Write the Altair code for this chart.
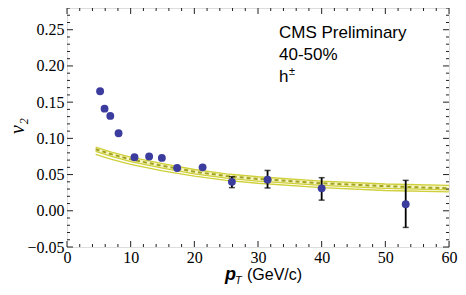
import altair as alt
import pandas as pd

# measured points
pt = [5.2, 5.9, 6.8, 8.1, 10.6, 12.9, 14.9, 17.3, 21.3, 25.9, 31.5, 40.0, 53.2]
v2 = [0.165, 0.141, 0.131, 0.107, 0.074, 0.075, 0.073, 0.059, 0.060, 0.040, 0.043, 0.031, 0.009]
# error bars (only last four points)
err_pt = [25.9, 31.5, 40.0, 53.2]
err_lo = [0.032, 0.0315, 0.0147, -0.023]
err_hi = [0.047, 0.0557, 0.0457, 0.042]

# theory curves
th_pt = [4.5, 7, 10, 15, 20, 25, 30, 40, 50, 60]
th_upper = [0.088, 0.081, 0.074, 0.065, 0.057, 0.051, 0.047, 0.041, 0.037, 0.035]
th_mid = [0.085, 0.078, 0.071, 0.062, 0.054, 0.048, 0.044, 0.038, 0.034, 0.031]
th_blow = [0.082, 0.075, 0.068, 0.059, 0.051, 0.045, 0.041, 0.035, 0.031, 0.029]
th_lower = [0.078, 0.071, 0.064, 0.055, 0.048, 0.042, 0.038, 0.032, 0.028, 0.026]

x_major = [0, 10, 20, 30, 40, 50, 60]
x_minor = [v for v in range(0, 61, 2) if v % 10 != 0]
y_major = [-0.05, 0.0, 0.05, 0.10, 0.15, 0.20, 0.25]
y_minor = [round(-0.05 + 0.01 * i, 2) for i in range(34)]
y_minor = [v for v in y_minor if all(abs(v - m) > 1e-6 for m in y_major)]

W, H = 382, 239
XD = [0, 60]
YD = [-0.05, 0.28]

pts = pd.DataFrame({"pt": pt, "v2": v2})
errs = pd.DataFrame({"pt": err_pt, "lo": err_lo, "hi": err_hi})
th = pd.DataFrame({"pt": th_pt, "up": th_upper, "mid": th_mid, "bl": th_blow, "lw": th_lower})

xs = alt.Scale(domain=XD, nice=False, zero=False)
ys = alt.Scale(domain=YD, nice=False, zero=False)

lab_font = "Liberation Serif"

x_axis = alt.Axis(values=x_major, title=None, tickSize=0, domain=False, grid=False,
                  labelFont=lab_font, labelFontSize=16, labelColor="black", labelPadding=2,
                  labelOverlap=False, labelFlush=False, format="d")
y_axis = alt.Axis(values=y_major, title=None, tickSize=0, domain=False, grid=False,
                  labelFont=lab_font, labelFontSize=16, labelColor="black", labelPadding=3,
                  labelOverlap=False, labelFlush=False, format=".2f")

X = alt.X("pt:Q", scale=xs, axis=x_axis)

base_th = alt.Chart(th)
band = base_th.mark_area(color="#f6f6c4", opacity=1).encode(
    x=X, y=alt.Y("up:Q", scale=ys, axis=y_axis), y2="bl:Q")
line_up = base_th.mark_line(color="#cfcf3a", strokeWidth=1.3).encode(x=X, y=alt.Y("up:Q", scale=ys, axis=y_axis))
line_bl = base_th.mark_line(color="#cfcf3a", strokeWidth=1.3).encode(x=X, y=alt.Y("bl:Q", scale=ys, axis=y_axis))
line_lw = base_th.mark_line(color="#cfcf3a", strokeWidth=1.3).encode(x=X, y=alt.Y("lw:Q", scale=ys, axis=y_axis))
line_mid = base_th.mark_line(color="#a3a322", strokeWidth=2, strokeDash=[4, 3]).encode(x=X, y=alt.Y("mid:Q", scale=ys, axis=y_axis))

err_rule = alt.Chart(errs).mark_rule(color="black", strokeWidth=1.8).encode(
    x=X, y=alt.Y("lo:Q", scale=ys, axis=y_axis), y2="hi:Q")
cap_lo = alt.Chart(errs).mark_tick(color="black", orient="horizontal", size=6, thickness=1.5).encode(
    x=X, y=alt.Y("lo:Q", scale=ys, axis=y_axis))
cap_hi = alt.Chart(errs).mark_tick(color="black", orient="horizontal", size=6, thickness=1.5).encode(
    x=X, y=alt.Y("hi:Q", scale=ys, axis=y_axis))

points = alt.Chart(pts).mark_circle(color="#3c3c9e", opacity=1, size=62).encode(
    x=X, y=alt.Y("v2:Q", scale=ys, axis=y_axis))

# inward frame ticks
def xticks(vals, length):
    d = pd.DataFrame({"t": vals})
    bot = alt.Chart(d).mark_rule(color="#222", strokeWidth=1).encode(
        x=alt.X("t:Q", scale=xs, axis=x_axis), y=alt.value(H), y2=alt.value(H - length))
    top = alt.Chart(d).mark_rule(color="#222", strokeWidth=1).encode(
        x=alt.X("t:Q", scale=xs, axis=x_axis), y=alt.value(0), y2=alt.value(length))
    return [bot, top]

def yticks(vals, length):
    d = pd.DataFrame({"t": vals})
    left = alt.Chart(d).mark_rule(color="#222", strokeWidth=1).encode(
        y=alt.Y("t:Q", scale=ys, axis=y_axis), x=alt.value(0), x2=alt.value(length))
    right = alt.Chart(d).mark_rule(color="#222", strokeWidth=1).encode(
        y=alt.Y("t:Q", scale=ys, axis=y_axis), x=alt.value(W), x2=alt.value(W - length))
    return [left, right]

tick_layers = xticks(x_major, 6) + xticks(x_minor, 3) + yticks(y_major, 6) + yticks(y_minor, 3)

def txt(s, x, y, size, font="Liberation Sans", style="normal", weight="normal", angle=0, align="left"):
    return alt.Chart(pd.DataFrame({"s": [s]})).mark_text(
        font=font, fontSize=size, fontStyle=style, fontWeight=weight, angle=angle,
        align=align, baseline="alphabetic", color="black").encode(
        text="s:N", x=alt.value(x), y=alt.value(y))

texts = [
    txt("CMS Preliminary", 212, 30, 17),
    txt("40-50%", 212, 52, 17),
    txt("h", 212, 74, 17),
    txt("±", 222, 67, 11),
    txt("p", 158, 272, 18, weight="bold", style="italic"),
    txt("T", 168, 276, 11, style="italic"),
    txt("(GeV/c)", 180, 272, 16),
    txt("v₂", -43, 118, 20, font="Liberation Serif", style="italic", angle=270, align="center"),
]

chart = alt.layer(band, line_up, line_bl, line_lw, line_mid, err_rule, cap_lo, cap_hi, points,
                  *tick_layers, *texts).properties(
    width=W, height=H,
    autosize=alt.AutoSizeParams(type="none"),
    padding={"left": 59, "top": 0, "right": 9, "bottom": 40},
).configure_view(stroke="#222", strokeWidth=1).configure_axis(
    labelOverlap=False, labelFlush=False
).configure(background="white")

chart.save("out.html", embed_options={"renderer": "svg", "actions": False})
